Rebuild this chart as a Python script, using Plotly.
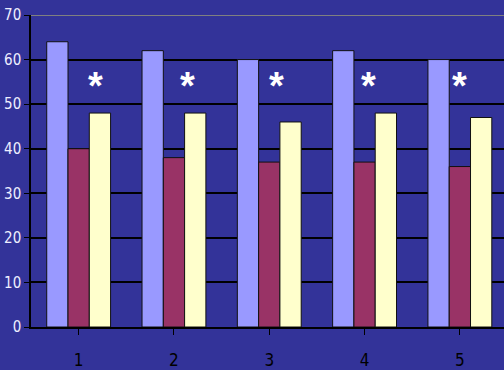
import plotly.graph_objects as go

# Grouped bar data: five categories, three series
categories = ["1", "2", "3", "4", "5"]
series_a = [64, 62, 60, 62, 60]
series_b = [40, 38, 37, 37, 36]
series_c = [48, 48, 46, 48, 47]
y_ticks = [0, 10, 20, 30, 40, 50, 60, 70]

# Asterisk markers (offsets in category units, height in value units)
star_x = [0.18, 1.14, 2.08, 3.04, 4.0]
star_y = 54

BG = "#333399"
colors = ["#9999FF", "#993366", "#FFFFCC"]
FONT = "Liberation Sans Narrow, Arial Narrow, DejaVu Sans Condensed, Liberation Sans, Arial, sans-serif"

fig = go.Figure()
for vals, col in zip([series_a, series_b, series_c], colors):
    fig.add_trace(go.Bar(
        x=list(range(len(categories))), y=vals,
        marker=dict(color=col, line=dict(color="#111111", width=1)),
        showlegend=False,
    ))

for sx in star_x:
    fig.add_annotation(
        x=sx, y=star_y, text="<b>*</b>", showarrow=False,
        font=dict(family="Liberation Sans, Arial, sans-serif", size=38, color="white"),
        xanchor="center", yanchor="middle",
    )

# Top border of the plot area in gray
fig.add_shape(type="line", xref="paper", yref="y", x0=0, x1=1, y0=70, y1=70,
              line=dict(color="#808080", width=2), layer="above")

fig.update_layout(
    width=504, height=370,
    margin=dict(l=31, r=0, t=15, b=39),
    paper_bgcolor=BG, plot_bgcolor=BG,
    barmode="group", bargap=0.33, bargroupgap=0,
    font=dict(family=FONT),
    xaxis=dict(
        tickmode="array", tickvals=list(range(len(categories))), ticktext=categories,
        range=[-0.5, 4.463], showgrid=False,
        showline=True, linecolor="black", linewidth=1.5,
        ticks="outside", tickson="boundaries", ticklen=6, tickcolor="black", tickwidth=1,
        tickfont=dict(family=FONT, size=17, color="black"),
        ticklabelstandoff=11,
    ),
    yaxis=dict(
        range=[0, 70], tickvals=y_ticks,
        showgrid=True, gridcolor="black", gridwidth=1.5,
        showline=True, linecolor="black", linewidth=1.5,
        ticks="outside", ticklen=5, tickcolor="black",
        tickfont=dict(family=FONT, size=15, color="#EEEEFF"),
        zeroline=False,
    ),
)

fig.write_html("out.html")
